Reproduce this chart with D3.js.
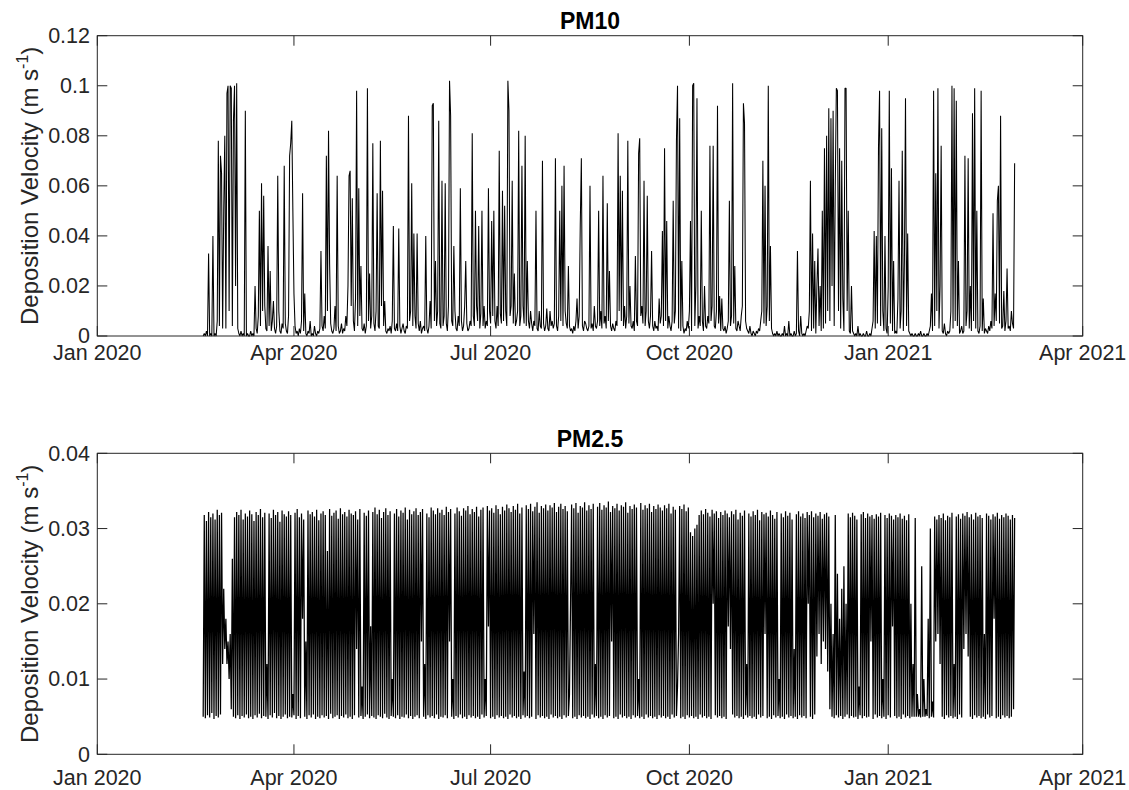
<!DOCTYPE html>
<html lang="en">
<head>
<meta charset="UTF-8">
<title>Deposition velocity PM10 / PM2.5</title>
<style>
  body { margin: 0; background: #fff; }
  svg { display: block; font-family: "Liberation Sans", Arial, sans-serif; }
</style>
</head>
<body>
<svg id="svg" width="1129" height="790"></svg>

<script src="https://d3js.org/d3.v7.min.js"></script>
<script>
// ------ DATA -----------------------------------------------
// both series start 2020-02-19 00:00, one reading every 12 hours
const seriesStart = '2020-02-19'
const stepHours = 12

const xTickDates = ['2020-01-01', '2020-04-01', '2020-07-01', '2020-10-01', '2021-01-01', '2021-04-01']
const xTickLabels = ['Jan 2020', 'Apr 2020', 'Jul 2020', 'Oct 2020', 'Jan 2021', 'Apr 2021']

const pm10Ticks = [0, 0.02, 0.04, 0.06, 0.08, 0.1, 0.12]
const pm25Ticks = [0, 0.01, 0.02, 0.03, 0.04]

// PM10, 12-hourly values (10 per row = 5 days)
const pm10Values = [
  0, .001, 0, .002, 0, .033, 0, .001, 0, .040,
  0, .001, 0, .006, .078, .004, .072, .065, .003, .05,
  .08, .003, .097, .1, .01, .1, .099, .004, .086, .1,
  .02, .101, .003, .001, 0, .002, 0, .001, 0, .09,
  0, .001, 0, 0, .002, 0, .001, 0, .02, .003,
  .001, .008, .05, .004, .061, .01, .056, .012, .003, .002,
  .036, .004, .026, .002, .006, .014, .003, .001, .004, .064,
  .01, .002, .001, .005, .003, .068, .005, .002, .001, .008,
  .072, .077, .086, .05, .017, .004, .001, .002, 0, .003,
  .001, .006, .057, .002, .017, .001, 0, .002, .001, .006,
  0, .001, 0, .004, .001, 0, .002, .001, .003, .034,
  .004, .002, .008, .003, .072, .01, .082, .029, .005, .002,
  .001, .003, .012, .002, .064, .004, .001, .002, .005, .001,
  .003, .002, .008, .004, .02, .064, .066, .012, .055, .006,
  .002, .015, .098, .004, .059, .008, .028, .003, .002, .005,
  .001, .004, .099, .006, .025, .003, .008, .077, .005, .002,
  .01, .057, .004, .003, .078, .012, .058, .004, .014, .002,
  .001, .003, .002, .004, .001, .006, .044, .003, .002, .005,
  .002, .043, .004, .001, .003, .005, .002, .001, .004, .003,
  .088, .006, .01, .061, .004, .041, .008, .003, .041, .005,
  .002, .006, .001, .003, .004, .002, .04, .003, .001, .004,
  .014, .003, .092, .093, .006, .03, .004, .01, .086, .005,
  .003, .062, .004, .008, .061, .005, .002, .012, .102, .088,
  .006, .004, .036, .01, .003, .002, .008, .004, .059, .006,
  .002, .004, .012, .03, .005, .002, .003, .006, .004, .081,
  .008, .004, .05, .012, .006, .044, .003, .009, .05, .004,
  .012, .003, .006, .004, .059, .01, .005, .046, .008, .05,
  .006, .003, .012, .004, .074, .009, .005, .058, .006, .052,
  .01, .004, .102, .09, .008, .012, .062, .005, .025, .004,
  .006, .01, .082, .004, .008, .068, .012, .005, .08, .004,
  .03, .006, .003, .01, .005, .002, .006, .004, .05, .003,
  .002, .01, .004, .003, .07, .005, .002, .004, .011, .003,
  .002, .01, .004, .006, .003, .005, .071, .004, .002, .008,
  .05, .006, .06, .004, .068, .01, .005, .003, .028, .004,
  .002, .003, .001, .004, .002, .006, .015, .003, .008, .045,
  .071, .004, .002, .006, .005, .003, .002, .004, .06, .003,
  .005, .002, .012, .004, .003, .006, .05, .004, .01, .003,
  .064, .005, .008, .003, .053, .006, .026, .004, .002, .005,
  .003, .002, .006, .004, .081, .01, .064, .006, .058, .004,
  .012, .003, .008, .078, .005, .02, .004, .003, .006, .002,
  .032, .006, .004, .073, .079, .008, .012, .005, .062, .004,
  .01, .056, .006, .003, .008, .034, .004, .002, .006, .003,
  .004, .002, .015, .005, .008, .042, .004, .075, .006, .046,
  .003, .008, .004, .002, .006, .054, .005, .01, .078, .1,
  .003, .087, .002, .03, .004, .001, .003, .002, .006, .003,
  .01, .046, .002, .1, .101, .004, .02, .095, .003, .008,
  .004, .05, .006, .002, .02, .004, .003, .008, .005, .076,
  .006, .012, .076, .004, .003, .01, .092, .005, .016, .002,
  .015, .003, .002, .004, .001, .003, .006, .054, .004, .008,
  .101, .005, .028, .003, .002, .006, .004, .002, .008, .012,
  .093, .085, .006, .003, .002, .001, .004, .001, 0, .002,
  .001, 0, .002, .001, .003, .002, .006, .01, .07, .005,
  .06, .004, .012, .1, .006, .036, .003, .001, 0, .001,
  0, .002, 0, .001, 0, 0, .001, 0, .004, 0,
  .001, 0, .006, 0, .001, 0, 0, .002, 0, .001,
  .034, .002, 0, .008, .001, 0, .001, 0, .002, .004,
  .003, .01, .062, .002, .041, .003, .03, .001, .02, .035,
  .004, .02, .002, .05, .003, .075, .005, .08, .01, .091,
  .006, .087, .02, .09, .004, .06, .099, .098, .01, .075,
  .003, .07, .015, .002, .099, .099, .01, .05, .002, .001,
  .02, .002, .001, 0, .001, 0, .004, 0, .001, 0,
  0, .001, 0, 0, .002, 0, 0, .001, 0, .003,
  .006, .042, .003, .04, .005, .075, .098, .004, .083, .01,
  .002, .04, .003, .001, .02, .098, .005, .067, .002, .03,
  .001, .002, .001, .015, .062, .003, .01, .074, .002, .03,
  .095, .004, .041, .002, .001, 0, .001, 0, 0, .001,
  0, 0, .001, 0, .002, 0, 0, .001, 0, 0,
  .001, 0, .002, .004, .017, .002, .098, .004, .065, .01,
  .099, .003, .02, .076, .002, .001, .005, .001, 0, .002,
  .001, .002, .01, .1, .003, .099, .006, .094, .004, .03,
  .001, .002, .004, .001, .002, .072, .004, .01, .071, .003,
  .02, .002, .089, .006, .099, .003, .05, .002, .001, .004,
  .098, .002, .015, .001, .003, .002, .001, .004, .002, .006,
  .003, .049, .004, .017, .006, .054, .06, .005, .088, .003,
  .004, .018, .002, .006, .027, .003, .004, .002, .01, .005,
  .003, .069
]

// PM2.5, nightly trough per day (10 days per row)
const pm25Low = [
  .0050, .0048, .0052, .0049, .0055, .0047, .0051, .0049, .0053, .012,
  .014, .012, .010, .0060, .0050, .0048, .0052, .0047, .0051, .0049,
  .0053, .0048, .0050, .0047, .0052, .0049, .0054, .0048, .0051, .0050,
  .0047, .0052, .0049, .0055, .0048, .0051, .0047, .0050, .0053, .0048,
  .0050, .0049, .0052, .0047, .0051, .0048, .018, .0050, .0047, .0052,
  .0049, .0053, .0047, .0050, .0048, .0052, .0049, .0051, .0047, .0054,
  .0048, .0050, .0052, .0047, .0051, .0049, .0053, .0048, .0050, .0047,
  .0052, .014, .0049, .0051, .0047, .0050, .0053, .0048, .0051, .0049,
  .0047, .0052, .0050, .0048, .0054, .0049, .0047, .0051, .0050, .0048,
  .0052, .0047, .0050, .0049, .0053, .0048, .0051, .0047, .0050, .0052,
  .0048, .015, .0050, .0047, .0052, .0049, .0051, .0048, .0053, .0047,
  .0050, .0049, .0052, .0048, .015, .0050, .0047, .0051, .0049, .0053,
  .0048, .0050, .0047, .0052, .0049, .0051, .0048, .0050, .0047, .0053,
  .0049, .0051, .017, .0048, .0050, .0047, .0052, .0049, .0051, .0048,
  .0050, .0047, .0053, .0049, .0051, .0048, .0050, .0047, .0052, .0049,
  .0051, .0048, .0050, .016, .0047, .0052, .0049, .0051, .0048, .0050,
  .0047, .0053, .0049, .0051, .0048, .0050, .0047, .0052, .0049, .0051,
  .020, .0048, .0050, .0047, .0052, .0049, .0051, .0048, .0050, .0047,
  .0053, .0049, .0051, .0048, .0050, .0047, .0052, .0049, .0051, .015,
  .0048, .0050, .0047, .0053, .0049, .0051, .0048, .0050, .0047, .0052,
  .0049, .0051, .0048, .0050, .0047, .0053, .0049, .0051, .0048, .0050,
  .0047, .0052, .0049, .0051, .0048, .0050, .0047, .0053, .0049, .0051,
  .016, .0048, .0050, .0047, .0052, .0049, .0051, .0048, .0050, .0047,
  .0053, .0049, .0051, .0048, .0050, .0047, .020, .0052, .0049, .0051,
  .0048, .0050, .0047, .017, .014, .0053, .0049, .0051, .0048, .0050,
  .0047, .0052, .0049, .0051, .0048, .0050, .0047, .0053, .0049, .0051,
  .016, .0048, .0050, .0047, .0052, .0049, .0051, .0048, .0050, .0047,
  .0053, .0049, .0051, .0048, .0050, .0047, .0052, .0049, .0051, .0048,
  .020, .0050, .0047, .0053, .013, .016, .012, .015, .014, .011,
  .0060, .0050, .0048, .0052, .0049, .0051, .0047, .0050, .0053, .0048,
  .0051, .0049, .0050, .0047, .0052, .0048, .0051, .0049, .0050, .015,
  .0047, .0053, .0049, .0051, .0048, .0050, .0047, .0052, .0049, .017,
  .0051, .0048, .0050, .0047, .0053, .0049, .0051, .0048, .0050, .0050,
  .0050, .0050, .0049, .0050, .0050, .0051, .0048, .0050, .0049, .015,
  .016, .012, .0050, .0047, .0052, .0049, .0051, .0048, .0050, .0047,
  .0053, .0049, .014, .016, .013, .0050, .0047, .0052, .0049, .0051,
  .0048, .0050, .0047, .0053, .0049, .0051, .018, .0048, .0050, .0047,
  .0052, .0049, .0051, .0048, .0050, .0060
]

// PM2.5, daytime peak per day (10 days per row)
const pm25High = [
  .0318, .0310, .0322, .0315, .0320, .0312, .0325, .0318, .0321, .022,
  .018, .015, .016, .026, .0315, .0322, .0318, .0325, .0312, .0320,
  .0316, .0324, .0319, .0310, .0322, .0318, .0326, .0315, .0321, .012,
  .0320, .0314, .0325, .0318, .0322, .0309, .0324, .0319, .0316, .0323,
  .0318, .008, .0321, .0326, .0315, .0320, .0312, .015, .0324, .0319,
  .0322, .0316, .0325, .0311, .0320, .0323, .0318, .027, .0326, .0317,
  .0321, .0324, .0313, .0327, .0319, .0322, .0316, .0325, .0320, .0318,
  .0323, .0312, .0326, .009, .0321, .0317, .0324, .017, .0322, .0328,
  .0319, .0325, .0314, .0322, .0327, .0318, .0323, .010, .0320, .0326,
  .0316, .0324, .0321, .0328, .0312, .0325, .0319, .0323, .0327, .0318,
  .0322, .0326, .012, .0320, .0315, .0328, .0324, .0319, .0327, .0321,
  .0325, .0318, .0329, .0322, .0326, .010, .0320, .0328, .0323, .0317,
  .0327, .0324, .0330, .0319, .0326, .0322, .0329, .0316, .0325, .0328,
  .010, .0330, .0324, .0327, .0321, .0331, .0326, .0319, .0329, .0324,
  .0332, .0327, .0322, .0330, .0325, .0333, .0320, .0328, .011, .0331,
  .0326, .0333, .0323, .0329, .0335, .0321, .0330, .0327, .0332, .0324,
  .0331, .0328, .0334, .0322, .0329, .0333, .0326, .0330, .0323, .008,
  .0332, .0327, .0334, .0321, .0330, .0328, .0335, .0324, .0331, .0326,
  .0333, .012, .0329, .0334, .0325, .0331, .0328, .0336, .0322, .0330,
  .0327, .0333, .0324, .0331, .0329, .0335, .0321, .0330, .0326, .0332,
  .0328, .010, .0334, .0325, .0331, .0327, .0333, .0322, .0330, .0326,
  .0332, .0328, .0324, .0331, .0327, .0333, .0320, .0329, .0325, .009,
  .0330, .0326, .0332, .0323, .0328, .0295, .0290, .0300, .0305, .0318,
  .0324, .0319, .0326, .0321, .0316, .0325, .0320, .0323, .0314, .0322,
  .0318, .0324, .0320, .0315, .0323, .0319, .0325, .0312, .0321, .0317,
  .0324, .012, .0320, .0316, .0323, .0318, .0325, .0311, .0322, .0319,
  .0321, .0316, .0324, .0318, .0313, .0322, .010, .0320, .0315, .0323,
  .0317, .0321, .0312, .014, .0319, .0323, .0316, .0320, .0314, .0322,
  .0318, .0323, .0315, .0320, .0317, .0322, .0313, .0319, .0321, .0316,
  .020, .016, .0318, .024, .018, .022, .025, .020, .0320, .0315,
  .0321, .0317, .0312, .009, .0319, .0322, .0314, .0320, .0316, .0318,
  .0313, .0319, .0316, .0321, .010, .0318, .0314, .0320, .0317, .0312,
  .0318, .0315, .0320, .0313, .0317, .0311, .0319, .020, .012, .0314,
  .008, .006, .025, .010, .006, .018, .0300, .007, .0316, .0312,
  .0318, .0314, .0320, .0311, .0317, .0315, .0321, .012, .0316, .0319,
  .0313, .0320, .0317, .0322, .0315, .0319, .0312, .0321, .0316, .0318,
  .0314, .016, .0320, .0317, .0312, .0319, .0316, .0321, .0313, .0318,
  .0315, .0320, .0317, .0312, .0318, .0314
]

// ------ CONSTANTS ------------------------
const plotLeft = 97.3
const plotRight = 1082.7
const axisColor = '#262626'
const tickLen = 10

const parseDate = d3.timeParse('%Y-%m-%d')
const start = parseDate(seriesStart)

const pm10Series = pm10Values.map((v, i) => ({ t: d3.timeHour.offset(start, i * stepHours), v: v }))
const pm25Series = []
pm25Low.forEach((lo, k) => {
  pm25Series.push({ t: d3.timeHour.offset(start, 2 * k * stepHours), v: lo })
  pm25Series.push({ t: d3.timeHour.offset(start, (2 * k + 1) * stepHours), v: pm25High[k] })
})

const x = d3.scaleTime()
  .domain([parseDate(xTickDates[0]), parseDate(xTickDates[xTickDates.length - 1])])
  .range([plotLeft, plotRight])

const panels = [
  { title: 'PM10', top: 35.7, bottom: 336, max: 0.12, ticks: pm10Ticks, series: pm10Series, labelY: 360, titleY: 29.3, lw: 1.05 },
  { title: 'PM2.5', top: 453.3, bottom: 754.3, max: 0.04, ticks: pm25Ticks, series: pm25Series, labelY: 785, titleY: 446.7, lw: 1.25 }
]

const svg = d3.select('#svg')
svg.append('rect').attr('width', 1129).attr('height', 790).attr('fill', '#fff')

const fmt = v => String(+v.toFixed(3))

panels.forEach(p => {
  const y = d3.scaleLinear().domain([0, p.max]).range([p.bottom, p.top])
  const g = svg.append('g')

  // data line
  const line = d3.line()
    .x(d => x(d.t))
    .y(d => y(d.v))
  g.append('path')
    .datum(p.series)
    .attr('fill', 'none')
    .attr('stroke', '#000')
    .attr('stroke-width', p.lw)
    .attr('stroke-linejoin', 'bevel')
    .attr('d', line)

  // box
  g.append('rect')
    .attr('x', plotLeft)
    .attr('y', p.top)
    .attr('width', plotRight - plotLeft)
    .attr('height', p.bottom - p.top)
    .attr('fill', 'none')
    .attr('stroke', axisColor)
    .attr('stroke-width', 1)

  // x ticks (inside, bottom and top)
  const xt = xTickDates.map(parseDate)
  xt.forEach((d, i) => {
    const xx = x(d)
    g.append('line').attr('x1', xx).attr('x2', xx).attr('y1', p.bottom).attr('y2', p.bottom - tickLen)
      .attr('stroke', axisColor)
    g.append('line').attr('x1', xx).attr('x2', xx).attr('y1', p.top).attr('y2', p.top + tickLen)
      .attr('stroke', axisColor)
    g.append('text')
      .attr('x', xx)
      .attr('y', p.labelY)
      .attr('text-anchor', 'middle')
      .attr('font-size', 21.5)
      .attr('fill', axisColor)
      .text(xTickLabels[i])
  })

  // y ticks (inside, left and right)
  p.ticks.forEach(v => {
    const yy = y(v)
    g.append('line').attr('x1', plotLeft).attr('x2', plotLeft + tickLen).attr('y1', yy).attr('y2', yy)
      .attr('stroke', axisColor)
    g.append('line').attr('x1', plotRight).attr('x2', plotRight - tickLen).attr('y1', yy).attr('y2', yy)
      .attr('stroke', axisColor)
    g.append('text')
      .attr('x', 90)
      .attr('y', yy)
      .attr('dy', '0.34em')
      .attr('text-anchor', 'end')
      .attr('font-size', 21.5)
      .attr('fill', axisColor)
      .text(fmt(v))
  })

  // title
  g.append('text')
    .attr('x', (plotLeft + plotRight) / 2)
    .attr('y', p.titleY)
    .attr('text-anchor', 'middle')
    .attr('font-size', 23)
    .attr('font-weight', 'bold')
    .attr('fill', '#000')
    .text(p.title)

  // y label
  const cy = (p.top + p.bottom) / 2
  const yl = g.append('text')
    .attr('transform', `translate(38, ${cy}) rotate(-90)`)
    .attr('text-anchor', 'middle')
    .attr('font-size', 24)
    .attr('fill', axisColor)
  yl.append('tspan').text('Deposition Velocity (m s')
  yl.append('tspan').attr('font-size', 16).attr('dy', -10).text('-1')
  yl.append('tspan').attr('dy', 10).text(')')
})
</script>
</body>
</html>
